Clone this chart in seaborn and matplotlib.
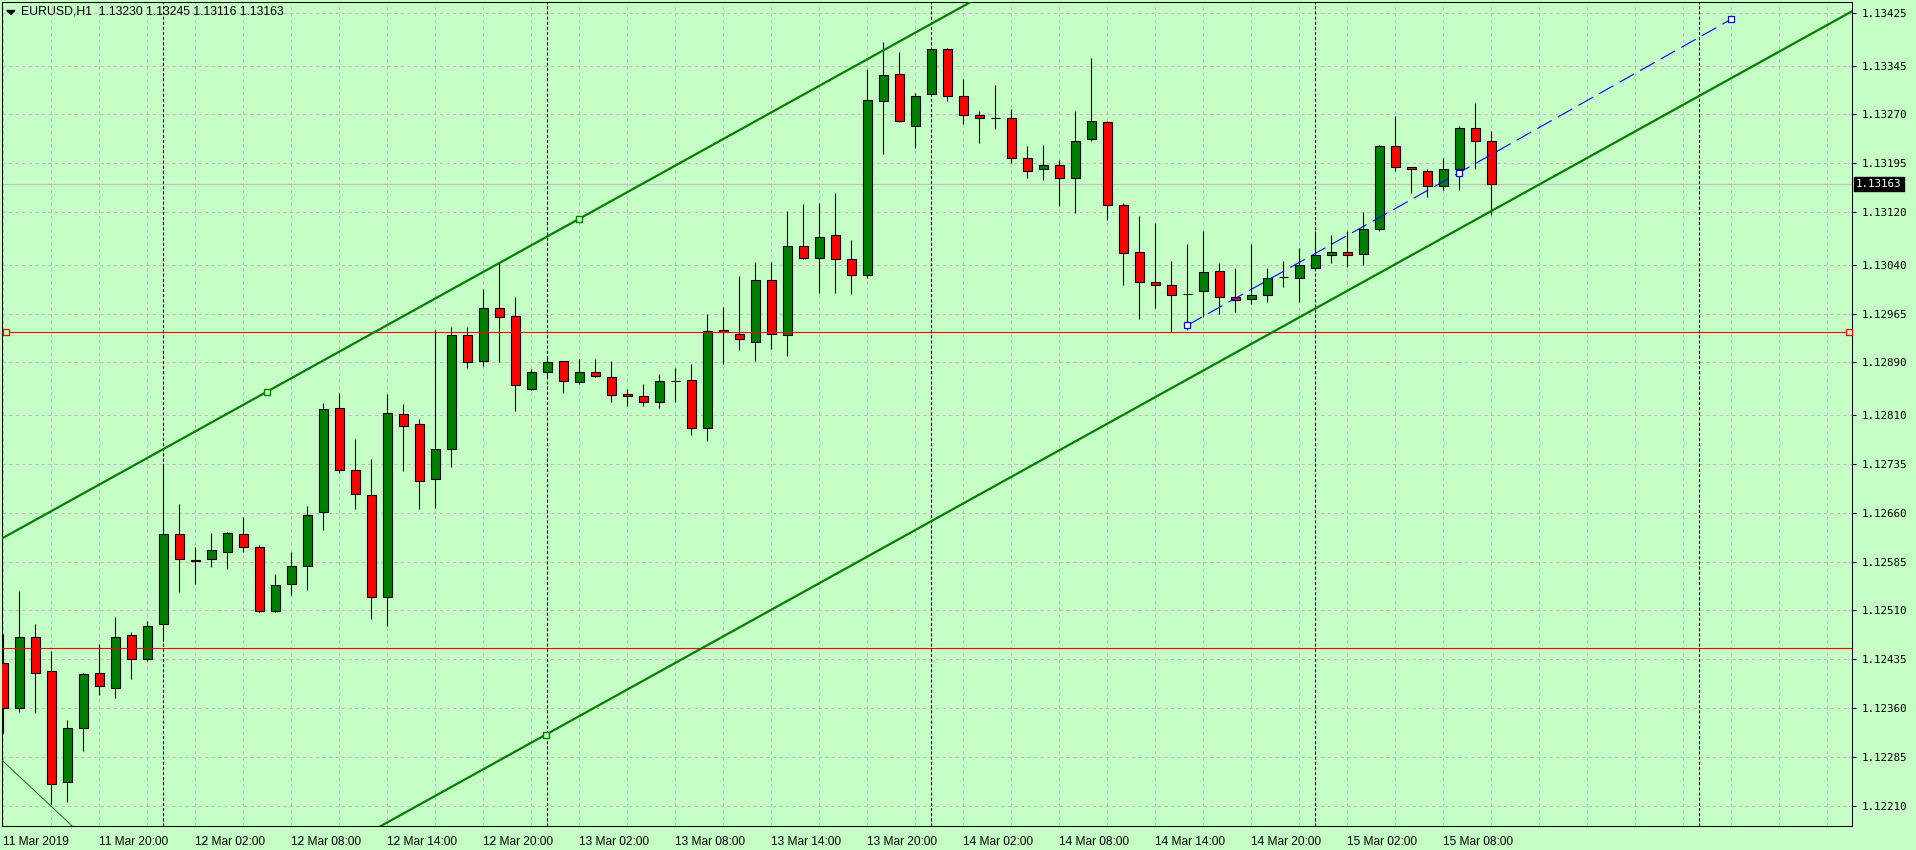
import matplotlib
matplotlib.use("Agg")
import matplotlib.pyplot as plt
from matplotlib import font_manager
from matplotlib.patches import Polygon
import numpy as np
import pandas as pd
import seaborn as sns

# ---- data ----
symbol = "EURUSD,H1"
first_bar = "2019-03-11 14:00"

opens = [1.12429, 1.12361, 1.12470, 1.12418, 1.12247, 1.12330, 1.12414, 1.12392, 1.12472, 1.12435,
         1.12489, 1.12627, 1.12586, 1.12589, 1.12599, 1.12627, 1.12608, 1.12509, 1.12550, 1.12578,
         1.12661, 1.12820, 1.12726, 1.12687, 1.12530, 1.12811, 1.12795, 1.12711, 1.12758, 1.12932,
         1.12892, 1.12973, 1.12961, 1.12850, 1.12875, 1.12892, 1.12860, 1.12876, 1.12867, 1.12841,
         1.12838, 1.12830, 1.12862, 1.12863, 1.12789, 1.12939, 1.12933, 1.12922, 1.13017, 1.12932,
         1.13068, 1.13050, 1.13086, 1.13048, 1.13024, 1.13290, 1.13332, 1.13253, 1.13302, 1.13370,
         1.13299, 1.13269, 1.13264, 1.13264, 1.13204, 1.13186, 1.13192, 1.13172, 1.13232, 1.13258,
         1.13131, 1.13060, 1.13013, 1.13008, 1.12995, 1.12999, 1.13030, 1.12991, 1.12987, 1.12993,
         1.13021, 1.13020, 1.13034, 1.13054, 1.13060, 1.13056, 1.13094, 1.13221, 1.13189, 1.13184,
         1.13160, 1.13186, 1.13249, 1.13230]
highs = [1.12474, 1.12540, 1.12489, 1.12448, 1.12342, 1.12414, 1.12459, 1.12500, 1.12477, 1.12494,
         1.12734, 1.12673, 1.12607, 1.12629, 1.12630, 1.12653, 1.12610, 1.12566, 1.12600, 1.12670,
         1.12828, 1.12843, 1.12773, 1.12742, 1.12842, 1.12827, 1.12804, 1.12939, 1.12944, 1.12945,
         1.13002, 1.13044, 1.12991, 1.12880, 1.12898, 1.12893, 1.12896, 1.12896, 1.12892, 1.12850,
         1.12857, 1.12873, 1.12881, 1.12887, 1.12964, 1.12975, 1.13022, 1.13044, 1.13044, 1.13122,
         1.13133, 1.13134, 1.13150, 1.13078, 1.13340, 1.13381, 1.13366, 1.13303, 1.13372, 1.13372,
         1.13325, 1.13275, 1.13315, 1.13278, 1.13222, 1.13223, 1.13200, 1.13276, 1.13356, 1.13260,
         1.13135, 1.13114, 1.13103, 1.13045, 1.13071, 1.13091, 1.13043, 1.13034, 1.13071, 1.13034,
         1.13045, 1.13065, 1.13092, 1.13085, 1.13091, 1.13120, 1.13223, 1.13268, 1.13190, 1.13186,
         1.13203, 1.13252, 1.13288, 1.13245]
lows = [1.12323, 1.12355, 1.12353, 1.12214, 1.12217, 1.12295, 1.12381, 1.12376, 1.12405, 1.12433,
        1.12464, 1.12539, 1.12550, 1.12577, 1.12573, 1.12600, 1.12507, 1.12507, 1.12533, 1.12542,
        1.12634, 1.12720, 1.12666, 1.12497, 1.12487, 1.12723, 1.12666, 1.12667, 1.12730, 1.12881,
        1.12885, 1.12890, 1.12816, 1.12848, 1.12867, 1.12844, 1.12857, 1.12867, 1.12830, 1.12824,
        1.12824, 1.12821, 1.12830, 1.12779, 1.12769, 1.12887, 1.12909, 1.12893, 1.12911, 1.12900,
        1.13048, 1.12997, 1.12997, 1.12995, 1.13020, 1.13210, 1.13258, 1.13219, 1.13300, 1.13290,
        1.13256, 1.13227, 1.13247, 1.13195, 1.13172, 1.13169, 1.13130, 1.13119, 1.13230, 1.13109,
        1.13008, 1.12956, 1.12974, 1.12936, 1.12939, 1.12959, 1.12964, 1.12967, 1.12979, 1.12982,
        1.13006, 1.12982, 1.13032, 1.13043, 1.13037, 1.13039, 1.13092, 1.13183, 1.13149, 1.13143,
        1.13155, 1.13155, 1.13186, 1.13116]
closes = [1.12361, 1.12470, 1.12415, 1.12244, 1.12330, 1.12412, 1.12395, 1.12470, 1.12435, 1.12486,
          1.12627, 1.12589, 1.12587, 1.12602, 1.12628, 1.12608, 1.12509, 1.12549, 1.12578, 1.12657,
          1.12818, 1.12726, 1.12688, 1.12530, 1.12812, 1.12792, 1.12708, 1.12758, 1.12932, 1.12890,
          1.12973, 1.12959, 1.12855, 1.12876, 1.12890, 1.12861, 1.12876, 1.12869, 1.12840, 1.12838,
          1.12830, 1.12861, 1.12862, 1.12789, 1.12938, 1.12936, 1.12926, 1.13017, 1.12933, 1.13068,
          1.13050, 1.13083, 1.13048, 1.13024, 1.13292, 1.13330, 1.13260, 1.13299, 1.13370, 1.13299,
          1.13269, 1.13264, 1.13264, 1.13204, 1.13184, 1.13192, 1.13172, 1.13230, 1.13260, 1.13131,
          1.13057, 1.13013, 1.13008, 1.12994, 1.12995, 1.13028, 1.12991, 1.12985, 1.12994, 1.13019,
          1.13021, 1.13039, 1.13054, 1.13060, 1.13054, 1.13094, 1.13221, 1.13189, 1.13186, 1.13160,
          1.13186, 1.13250, 1.13230, 1.13163]

# price scale labels on the right
price_ticks = [1.13425, 1.13345, 1.13270, 1.13195, 1.13120, 1.13040, 1.12965, 1.12890, 1.12810,
               1.12735, 1.12660, 1.12585, 1.12510, 1.12435, 1.12360, 1.12285, 1.12210]
# time scale labels (bar index, text)
time_tick_bars = [0, 6, 12, 18, 24, 30, 36, 42, 48, 54, 60, 66, 72, 78, 84, 90]
time_tick_labels = ["11 Mar 2019", "11 Mar 20:00", "12 Mar 02:00", "12 Mar 08:00", "12 Mar 14:00",
                    "12 Mar 20:00", "13 Mar 02:00", "13 Mar 08:00", "13 Mar 14:00", "13 Mar 20:00",
                    "14 Mar 02:00", "14 Mar 08:00", "14 Mar 14:00", "14 Mar 20:00", "15 Mar 02:00",
                    "15 Mar 08:00"]
day_separator_bars = [10, 34, 58, 82, 106]

# drawn objects
channel_x = [16.46, 35.98]
channel_y = [1.12845, 1.13110]
channel_low_x = 33.92
channel_low_y = 1.12320
thin_line_x = [-0.06, 4.34]
thin_line_y = [1.12280, 1.12179]
blue_x = [74, 91, 108]
blue_y = [1.12947, 1.13181, 1.13416]
red_levels = [1.12936, 1.12452]
bid = 1.13163

# ---- colours ----
BG = "#C6FFC6"
BULL = "#008000"
BEAR = "#FF0000"
GRID = "#C4BAC4"

sns.set_style("white", rc={"axes.facecolor": BG, "figure.facecolor": BG,
                           "axes.edgecolor": "black", "axes.linewidth": 0.75})
plt.rcParams["lines.scale_dashes"] = False
plt.rcParams["font.family"] = ["Liberation Sans", "DejaVu Sans"]

names = {f.name for f in font_manager.fontManager.ttflist}
if "Liberation Sans Narrow" in names:
    time_font, time_size = ["Liberation Sans Narrow", "DejaVu Sans"], 10.2
else:
    time_font, time_size = ["Liberation Sans", "DejaVu Sans"], 8.6

df = pd.DataFrame({"open": opens, "high": highs, "low": lows, "close": closes})
df["time"] = pd.date_range(first_bar, periods=len(df), freq="h")
df["bar"] = np.arange(len(df))

W, H = 1916, 850
fig = plt.figure(figsize=(W / 100, H / 100), dpi=100)
left, right, top, bottom = 2.3, 1852, 2, 826.3
ax = fig.add_axes([left / W, (H - bottom) / H, (right - left) / W, (bottom - top) / H])

x0 = (left - 3.33) / 16
x1 = (right - 3.33) / 16
y_top = 1.13425 + 11.3 / 65267
y_bot = 1.12210 - 20.0 / 65267
ax.set_xlim(x0, x1)
ax.set_ylim(y_bot, y_top)

# grid (every 3 bars and at each price label)
ax.vlines(np.arange(0, 116, 3), y_bot, y_top, colors=GRID, lw=0.75,
          linestyles=[(0, (2.5, 2.2))], zorder=0)
ax.hlines(price_ticks, x0, x1, colors=GRID, lw=0.75, linestyles=[(0, (2.5, 2.2))], zorder=0)

# day separators
ax.vlines(day_separator_bars, y_bot, y_top, colors="black", lw=0.75,
          linestyles=[(0, (2.2, 1.5))], zorder=1)

# bid line
ax.axhline(bid, color="#C0C0C0", lw=0.9, zorder=1)

# candles
up = df["close"] >= df["open"]
body_low = np.minimum(df["open"], df["close"])
body_h = (df["close"] - df["open"]).abs()
ax.vlines(df["bar"], df["low"], df["high"], colors="black", lw=0.8, zorder=3)
ax.bar(df["bar"], body_h, bottom=body_low, width=0.5625,
       color=np.where(up, BULL, BEAR), edgecolor="black", linewidth=0.8, zorder=4)

# horizontal levels
for lvl in red_levels:
    ax.axhline(lvl, color=BEAR, lw=0.8, zorder=5)
ax.plot([0.17, 115.35], [red_levels[0], red_levels[0]], ls="none", marker="s", ms=4,
        mfc=BG, mec=BEAR, mew=0.9, zorder=6, clip_on=False)

# equidistant channel
slope = (channel_y[1] - channel_y[0]) / (channel_x[1] - channel_x[0])
ax.axline((channel_x[0], channel_y[0]), slope=slope, color=BULL, lw=1.6, zorder=5)
ax.axline((channel_low_x, channel_low_y), slope=slope, color=BULL, lw=1.6, zorder=5)
ax.plot(channel_x + [channel_low_x], channel_y + [channel_low_y], ls="none", marker="s",
        ms=3.8, mfc=BG, mec=BULL, mew=1.0, zorder=6)

# thin trend line bottom left
ax.axline((thin_line_x[0], thin_line_y[0]), (thin_line_x[1], thin_line_y[1]),
          color=BULL, lw=0.7, zorder=5)

# blue dashed trend line
sns.lineplot(x=blue_x, y=blue_y, ax=ax, color="#0000FF", lw=0.8,
             linestyle=(0, (12, 5)), zorder=5, legend=False)
ax.plot(blue_x, blue_y, ls="none", marker="s", ms=3.8, mfc="white", mec="#0000FF",
        mew=0.9, zorder=6)

# axes and ticks
ax.yaxis.tick_right()
ax.set_yticks(price_ticks)
ax.set_yticklabels([f"{p:.5f}" for p in price_ticks])
ax.tick_params(axis="y", length=3, width=0.75, pad=4, labelsize=7.8, colors="black")
for t in ax.get_yticklabels():
    t.set_fontfamily(["DejaVu Sans Mono"])

ax.set_xticks(time_tick_bars)
ax.set_xticklabels(time_tick_labels, ha="left")
ax.tick_params(axis="x", length=4, width=0.75, pad=3, labelsize=time_size, colors="black")
for t in ax.get_xticklabels():
    t.set_fontfamily(time_font)
ax.set_xlabel("")
ax.set_ylabel("")
for s in ax.spines.values():
    s.set_visible(True)
    s.set_color("black")
    s.set_linewidth(0.75)

# current price box
ax.annotate(f"{bid:.5f}", xy=(1, bid), xycoords=("axes fraction", "data"),
            xytext=(4, 0), textcoords="offset pixels", ha="left", va="center",
            fontsize=7.8, family=["DejaVu Sans Mono"], color="white",
            bbox=dict(boxstyle="square,pad=0.2", fc="black", ec="black"),
            annotation_clip=False)

# header
last = df.iloc[-1]
header = f"{symbol}  {last['open']:.5f} {last['high']:.5f} {last['low']:.5f} {last['close']:.5f}"
fig.text(21 / W, 1 - 12 / H, header, ha="left", va="center", fontsize=8.8,
         family=["Liberation Sans", "DejaVu Sans"], color="black")
tri = Polygon([[6.7 / W, 1 - 10.5 / H], [15 / W, 1 - 10.5 / H], [10.85 / W, 1 - 14.5 / H]],
              closed=True, transform=fig.transFigure, color="black")
fig.patches.append(tri)

fig.savefig("out.png", dpi=100, facecolor=BG)
